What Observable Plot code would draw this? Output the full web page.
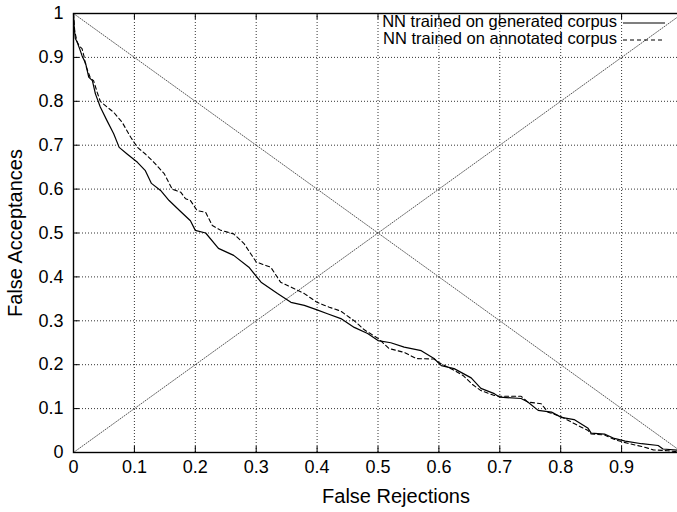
<!DOCTYPE html>
<html><head><meta charset="utf-8">
<script src="https://cdn.jsdelivr.net/npm/d3@7"></script>
<script src="https://cdn.jsdelivr.net/npm/@observablehq/plot@0.6"></script>
<style>
html,body{margin:0;padding:0;background:#fff;overflow:hidden;}
#wrap{position:relative;width:677px;height:512px;overflow:hidden;background:#fff;}
#wrap svg.plot{position:absolute;left:0;top:0;max-width:none !important;height:512px !important;}
.lg{position:absolute;font-family:"Liberation Sans",Arial,sans-serif;font-size:16.5px;color:#000;white-space:nowrap;text-align:right;line-height:17px;}
#lgsvg{position:absolute;left:0;top:0;}
</style></head><body><div id="wrap"></div>
<script>
// Tick values
const xTicks = [0, 0.1, 0.2, 0.3, 0.4, 0.5, 0.6, 0.7, 0.8, 0.9, 1];
const yTicks = [0, 0.1, 0.2, 0.3, 0.4, 0.5, 0.6, 0.7, 0.8, 0.9, 1];
const xTickLabels = ["0", "0.1", "0.2", "0.3", "0.4", "0.5", "0.6", "0.7", "0.8", "0.9", "1"];
const yTickLabels = ["0", "0.1", "0.2", "0.3", "0.4", "0.5", "0.6", "0.7", "0.8", "0.9", "1"];

// Series names
const seriesNames = ["NN trained on generated corpus", "NN trained on annotated corpus"];

// NN trained on generated corpus (solid)
const genFR = [0, 0.001, 0.003, 0.006, 0.01, 0.014, 0.02, 0.025, 0.031, 0.036, 0.044, 0.055, 0.066, 0.075, 0.088, 0.105, 0.118, 0.128, 0.143, 0.157, 0.175, 0.192, 0.2, 0.217, 0.238, 0.263, 0.288, 0.308, 0.335, 0.357, 0.379, 0.4, 0.417, 0.439, 0.461, 0.483, 0.5, 0.521, 0.543, 0.571, 0.592, 0.604, 0.625, 0.653, 0.669, 0.691, 0.7, 0.735, 0.746, 0.763, 0.785, 0.801, 0.822, 0.845, 0.85, 0.872, 0.888, 0.906, 0.933, 0.96, 0.968, 0.993, 1];
const genFA = [1, 0.97, 0.943, 0.935, 0.92, 0.904, 0.886, 0.855, 0.847, 0.817, 0.787, 0.756, 0.726, 0.695, 0.68, 0.661, 0.642, 0.613, 0.597, 0.574, 0.55, 0.528, 0.506, 0.5, 0.465, 0.449, 0.422, 0.388, 0.362, 0.342, 0.335, 0.325, 0.316, 0.305, 0.285, 0.271, 0.255, 0.25, 0.24, 0.232, 0.214, 0.198, 0.191, 0.17, 0.146, 0.134, 0.126, 0.123, 0.115, 0.096, 0.092, 0.08, 0.075, 0.055, 0.044, 0.042, 0.032, 0.026, 0.02, 0.016, 0.008, 0.005, 0];

// NN trained on annotated corpus (dashed)
const annFR = [0, 0.002, 0.006, 0.01, 0.014, 0.017, 0.02, 0.028, 0.033, 0.039, 0.044, 0.055, 0.066, 0.08, 0.094, 0.105, 0.118, 0.132, 0.149, 0.162, 0.176, 0.184, 0.192, 0.203, 0.217, 0.228, 0.242, 0.263, 0.28, 0.3, 0.324, 0.34, 0.357, 0.379, 0.4, 0.42, 0.439, 0.461, 0.47, 0.477, 0.5, 0.518, 0.543, 0.563, 0.592, 0.6, 0.625, 0.64, 0.655, 0.669, 0.691, 0.7, 0.735, 0.746, 0.768, 0.779, 0.8, 0.822, 0.845, 0.85, 0.872, 0.891, 0.91, 0.938, 0.952, 0.976, 0.99, 1];
const annFA = [1, 0.96, 0.935, 0.925, 0.92, 0.904, 0.882, 0.852, 0.847, 0.82, 0.8, 0.787, 0.775, 0.752, 0.718, 0.695, 0.68, 0.661, 0.635, 0.6, 0.593, 0.578, 0.574, 0.551, 0.547, 0.517, 0.506, 0.498, 0.476, 0.434, 0.422, 0.388, 0.377, 0.362, 0.342, 0.331, 0.322, 0.3, 0.289, 0.28, 0.26, 0.237, 0.228, 0.214, 0.213, 0.205, 0.187, 0.175, 0.155, 0.141, 0.13, 0.128, 0.128, 0.115, 0.111, 0.092, 0.082, 0.066, 0.05, 0.042, 0.04, 0.028, 0.021, 0.012, 0.006, 0.004, 0.002, 0];

// Reference diagonals
const diagX = [0, 1];
const diagUp = [0, 1];
const diagDown = [1, 0];

const gen = genFR.map((x, i) => ({x, y: genFA[i]}));
const ann = annFR.map((x, i) => ({x, y: annFA[i]}));
const dUp = diagX.map((x, i) => ({x, y: diagUp[i]}));
const dDown = diagX.map((x, i) => ({x, y: diagDown[i]}));

const W = 690, H = 512, ML = 73, MR = 8, MT = 13, MB = 60;
const tickLenY = 6 / (H - MT - MB);
const tickLenX = 6 / (W - ML - MR);
const font = "'Liberation Sans', Arial, Helvetica, sans-serif";

const chart = Plot.plot({
  width: W, height: H,
  marginLeft: ML, marginRight: MR, marginTop: MT, marginBottom: MB,
  style: {fontFamily: font, fontSize: "18px", background: "#fff", color: "#000", overflow: "visible", maxWidth: "none"},
  x: {domain: [0, 1], label: null},
  y: {domain: [0, 1], label: null},
  marks: [
    Plot.gridX(xTicks, {stroke: "#000", strokeOpacity: 0.8, strokeWidth: 1, strokeDasharray: "1,2"}),
    Plot.gridY(yTicks, {stroke: "#000", strokeOpacity: 0.8, strokeWidth: 1, strokeDasharray: "1,2"}),
    Plot.line(dUp, {x: "x", y: "y", stroke: "#444", strokeWidth: 0.9, strokeDasharray: "1,1.6"}),
    Plot.line(dDown, {x: "x", y: "y", stroke: "#444", strokeWidth: 0.9, strokeDasharray: "1,1.6"}),
    Plot.line(ann, {x: "x", y: "y", stroke: "#000", strokeWidth: 1.1, strokeDasharray: "4,3"}),
    Plot.line(gen, {x: "x", y: "y", stroke: "#000", strokeWidth: 1.2}),
    // inward tick marks
    Plot.ruleX(xTicks, {x: d => d, y1: 0, y2: tickLenY, stroke: "#000", strokeWidth: 1}),
    Plot.ruleX(xTicks, {x: d => d, y1: 1 - tickLenY, y2: 1, stroke: "#000", strokeWidth: 1}),
    Plot.ruleY(yTicks, {y: d => d, x1: 0, x2: tickLenX, stroke: "#000", strokeWidth: 1}),
    Plot.frame({stroke: "#000", strokeWidth: 1.4}),
    Plot.axisX(xTicks, {tickSize: 0, tickPadding: 8, fontSize: 18, label: null, tickFormat: (d, i) => xTickLabels[i]}),
    Plot.axisY(yTicks, {tickSize: 0, tickPadding: 10, fontSize: 18, label: null, tickFormat: (d, i) => yTickLabels[i]}),
    Plot.text(["False Rejections"], {text: d => d, frameAnchor: "bottom", textAnchor: "middle", lineAnchor: "middle", dx: 18, dy: 44, fontSize: 20}),
    Plot.text(["False Acceptances"], {text: d => d, frameAnchor: "left", textAnchor: "middle", lineAnchor: "middle", rotate: -90, dx: -58, fontSize: 20})
  ]
});
chart.classList.add("plot");
chart.style.maxWidth = "none";
chart.style.width = W + "px";
chart.style.height = H + "px";
const wrap = document.getElementById("wrap");
wrap.appendChild(chart);

// Legend (gnuplot-style key, inside the top-right of the plot)
const rowTops = [13, 30];
const dashes = [null, "4,3"];
const ns = "http://www.w3.org/2000/svg";
const lgsvg = document.createElementNS(ns, "svg");
lgsvg.setAttribute("id", "lgsvg");
lgsvg.setAttribute("width", 677);
lgsvg.setAttribute("height", 60);
seriesNames.forEach((name, i) => {
  const d = document.createElement("div");
  d.className = "lg";
  d.style.right = (677 - 617) + "px";
  d.style.top = rowTops[i] + "px";
  d.textContent = name;
  wrap.appendChild(d);
  const ln = document.createElementNS(ns, "line");
  ln.setAttribute("x1", 623); ln.setAttribute("x2", 665);
  ln.setAttribute("y1", rowTops[i] + 10); ln.setAttribute("y2", rowTops[i] + 10);
  ln.setAttribute("stroke", "#000");
  ln.setAttribute("stroke-width", i === 0 ? 1.2 : 1.1);
  if (dashes[i]) ln.setAttribute("stroke-dasharray", dashes[i]);
  lgsvg.appendChild(ln);
});
wrap.appendChild(lgsvg);
</script></body></html>
